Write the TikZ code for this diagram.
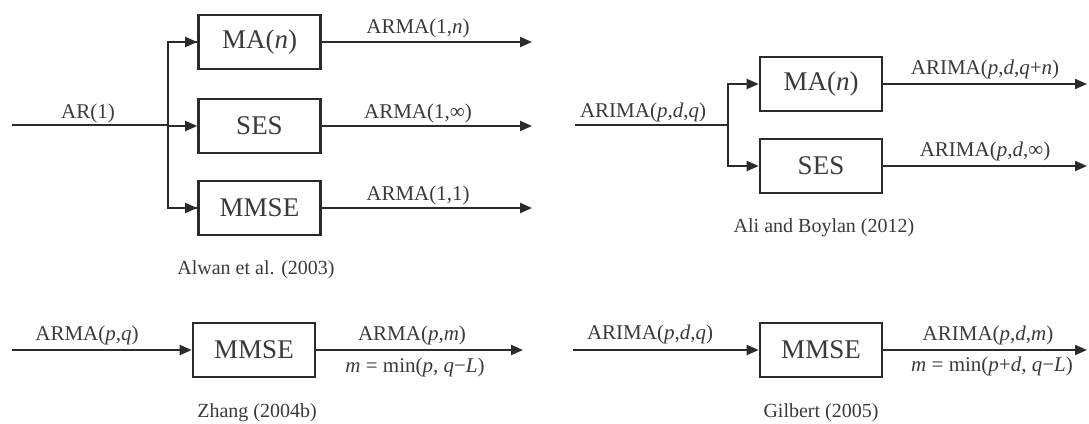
\documentclass[tikz,border=0pt]{standalone}
\usepackage{fontspec}
\setmainfont{Liberation Serif}
\usetikzlibrary{arrows.meta}
\definecolor{ink}{HTML}{2B2B2B}
\definecolor{txt}{HTML}{3A3A3A}
\tikzset{
  blk/.style={draw=ink, line width=2.6pt, fill=white, minimum width=122pt, minimum height=54pt,
    inner sep=0pt, text=txt, font=\fontsize{27}{30}\selectfont},
  lab/.style={inner sep=0pt, text=txt, font=\fontsize{21}{24}\selectfont},
  captext/.style={inner sep=0pt, text=txt, font=\fontsize{20}{23}\selectfont},
  flow/.style={draw=ink, line width=2pt},
  arr/.style={flow, -{Triangle[length=12pt,width=10pt]}},
}
\newcommand{\vi}[1]{\textit{#1}}
\begin{document}
\begin{tikzpicture}[x=1pt,y=-1pt]
\useasboundingbox (0,0) rectangle (1089,423);

% --- Alwan et al. (2003): AR(1) split into three filters
\coordinate (in1) at (12,125);
\coordinate (br1) at (168,125);
\node[blk] (ma1)   at (259.5,42)  {MA(\vi{n})};
\node[blk] (ses1)  at (259.5,126) {SES};
\node[blk] (mmse1) at (259.5,208) {MMSE};
\coordinate (o1a) at (532,42);
\coordinate (o1b) at (532,126);
\coordinate (o1c) at (532,208);
\draw[flow] (in1) -- (br1);
\draw[flow] (br1) |- (ma1.west);
\draw[flow] (br1) |- (mmse1.west);
\draw[arr] (br1 |- ma1.west) -- (ma1.west);
\draw[arr] (br1 |- ses1.west) -- (ses1.west);
\draw[arr] (br1 |- mmse1.west) -- (mmse1.west);
\draw[arr] (ma1.east) -- (o1a);
\draw[arr] (ses1.east) -- (o1b);
\draw[arr] (mmse1.east) -- (o1c);
\node[lab] (l1in) at (88,113) {AR(1)};
\node[lab] (l1a) at (418,28)  {ARMA(1,\vi{n})};
\node[lab] (l1b) at (418,113) {ARMA(1,∞)};
\node[lab] (l1c) at (418,195) {ARMA(1,1)};
\node[captext] (c1) at (256,270) {Alwan et al. (2003)};

% --- Ali and Boylan (2012): ARIMA(p,d,q) split into two filters
\coordinate (in2) at (575,125);
\coordinate (br2) at (728,125);
\node[blk] (ma2)  at (821,84)  {MA(\vi{n})};
\node[blk] (ses2) at (821,166) {SES};
\coordinate (o2a) at (1087,84);
\coordinate (o2b) at (1087,166);
\draw[flow] (in2) -- (br2);
\draw[arr] (br2) |- (ma2.west);
\draw[arr] (br2) |- (ses2.west);
\draw[arr] (ma2.east) -- (o2a);
\draw[arr] (ses2.east) -- (o2b);
\node[lab] (l2in) at (643,112) {ARIMA(\vi{p},\vi{d},\vi{q})};
\node[lab] (l2a) at (985,69)  {ARIMA(\vi{p},\vi{d},\vi{q}+\vi{n})};
\node[lab] (l2b) at (985,151) {ARIMA(\vi{p},\vi{d},∞)};
\node[captext] (c2) at (824,228) {Ali and Boylan (2012)};

% --- Zhang (2004b): ARMA(p,q) through MMSE
\coordinate (in3) at (12,350);
\node[blk] (mmse3) at (254,350) {MMSE};
\coordinate (o3) at (523,350);
\draw[arr] (in3) -- (mmse3.west);
\draw[arr] (mmse3.east) -- (o3);
\node[lab] (l3in) at (87,335) {ARMA(\vi{p},\vi{q})};
\node[lab] (l3a) at (412,335) {ARMA(\vi{p},\vi{m})};
\node[lab] (l3b) at (415,367) {\vi{m} = min(\vi{p}, \vi{q}−\vi{L})};
\node[captext] (c3) at (257,413) {Zhang (2004b)};

% --- Gilbert (2005): ARIMA(p,d,q) through MMSE
\coordinate (in4) at (573,350);
\node[blk] (mmse4) at (821,350) {MMSE};
\coordinate (o4) at (1087,350);
\draw[arr] (in4) -- (mmse4.west);
\draw[arr] (mmse4.east) -- (o4);
\node[lab] (l4in) at (650,334) {ARIMA(\vi{p},\vi{d},\vi{q})};
\node[lab] (l4a) at (988,335) {ARIMA(\vi{p},\vi{d},\vi{m})};
\node[lab] (l4b) at (992,366) {\vi{m} = min(\vi{p}+\vi{d}, \vi{q}−\vi{L})};
\node[captext] (c4) at (821,413) {Gilbert (2005)};
\end{tikzpicture}
\end{document}
